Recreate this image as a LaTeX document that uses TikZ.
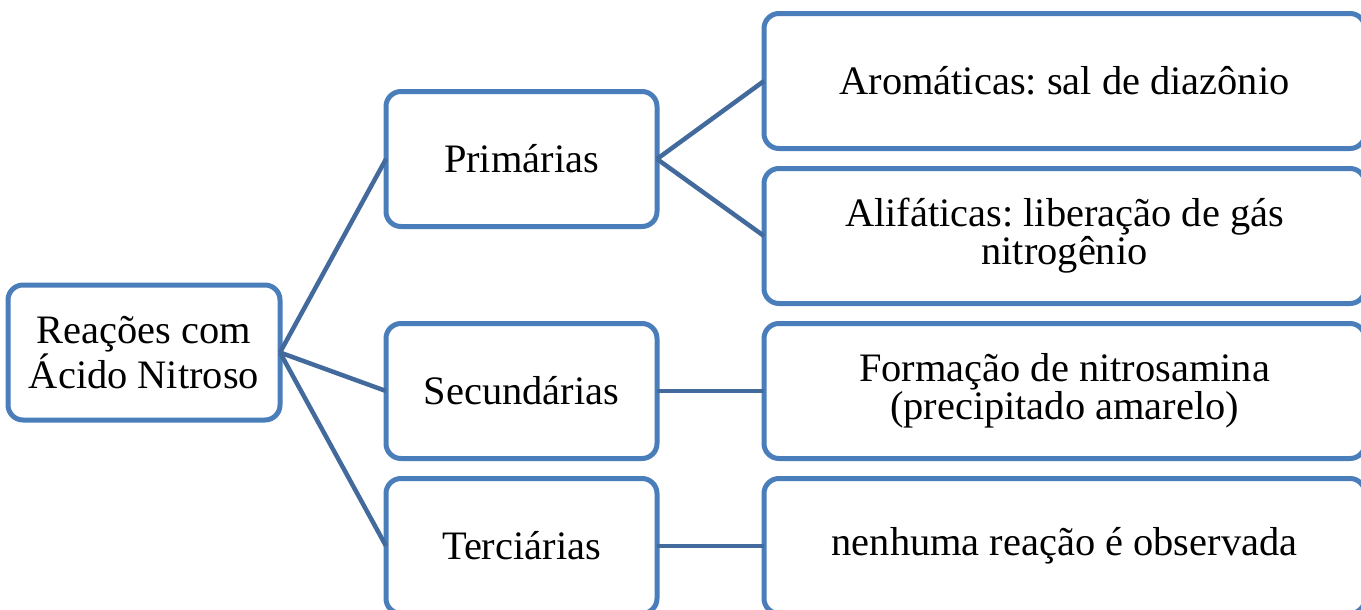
\documentclass[tikz,border=0pt]{standalone}
\usepackage{fontspec}
\setmainfont{Liberation Serif}
\usepackage{xcolor}
\usepackage{tikz}
\usetikzlibrary{positioning}
\definecolor{cbox}{RGB}{74,126,187}
\definecolor{cline}{RGB}{66,106,156}
\frenchspacing

\begin{document}
\begin{tikzpicture}[
  font=\fontsize{23}{21.5}\selectfont,
  bx/.style={rectangle,rounded corners=3mm,draw=cbox,line width=1mm,fill=white,minimum height=27mm,align=center,inner sep=0,outer sep=0},
  lft/.style={bx,minimum width=54.4mm},
  mid/.style={bx,minimum width=54.2mm},
  rgt/.style={bx,minimum width=120.2mm},
  lnk/.style={cline,line width=0.9mm},
]
\useasboundingbox (0,0) rectangle (27.22,-12.18);
% Root
\node[lft] (reac) at (2.88,-7.05) {Reações com\\Ácido Nitroso};

% Amine classes
\node[mid,right=21.2mm of reac,yshift=-7.7mm] (sec) {Secundárias};
\node[mid,above=19.4mm of sec] (prim) {Primárias};
\node[mid,below=4mm of sec] (terc) {Terciárias};

% Results
\node[rgt,right=21.4mm of sec] (form) {Formação de nitrosamina\\(precipitado amarelo)};
\node[rgt,right=21.4mm of terc] (nenh) {nenhuma reação é observada};
\node[rgt,above=4mm of form] (alif) {Alifáticas: liberação de gás\\nitrogênio};
\node[rgt,above=4mm of alif] (arom) {Aromáticas: sal de diazônio};

% Links
\draw[lnk] (reac.east) -- (prim.west);
\draw[lnk] (reac.east) -- (sec.west);
\draw[lnk] (reac.east) -- (terc.west);
\draw[lnk] (prim.east) -- (arom.west);
\draw[lnk] (prim.east) -- (alif.west);
\draw[lnk] (sec.east) -- (form.west);
\draw[lnk] (terc.east) -- (nenh.west);
\end{tikzpicture}
\end{document}
